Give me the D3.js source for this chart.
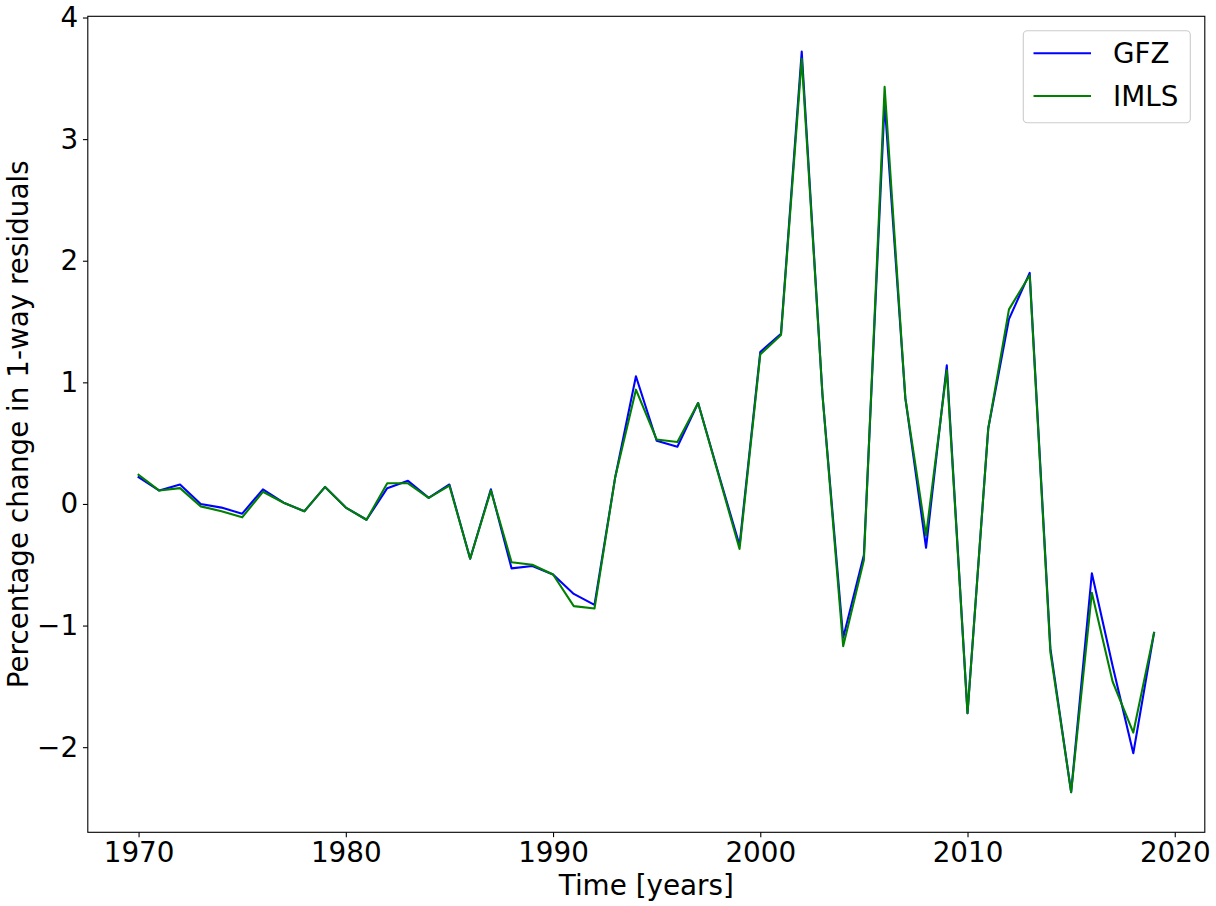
<!DOCTYPE html>
<html>
<head>
<meta charset="utf-8">
<script src="https://cdn.jsdelivr.net/npm/d3@7"></script>
<style>
  html, body { margin: 0; padding: 0; background: #fff; }
  svg { display: block; font-family: "DejaVu Sans", sans-serif; }
</style>
</head>
<body>
<svg id="chart" width="1216" height="906"></svg>
<script>
const years = [1970,1971,1972,1973,1974,1975,1976,1977,1978,1979,
               1980,1981,1982,1983,1984,1985,1986,1987,1988,1989,
               1990,1991,1992,1993,1994,1995,1996,1997,1998,1999,
               2000,2001,2002,2003,2004,2005,2006,2007,2008,2009,
               2010,2011,2012,2013,2014,2015,2016,2017,2018,2019];
const gfz = [0.22,0.11,0.16,0.00,-0.03,-0.08,0.12,0.01,-0.06,0.14,
             -0.03,-0.13,0.13,0.19,0.05,0.16,-0.45,0.12,-0.53,-0.51,
             -0.58,-0.74,-0.83,0.22,1.05,0.52,0.47,0.83,0.24,-0.34,
             1.25,1.40,3.72,0.90,-1.10,-0.42,3.30,0.87,-0.36,1.14,
             -1.72,0.62,1.52,1.90,-1.19,-2.37,-0.57,-1.33,-2.05,-1.06];
const imls = [0.24,0.11,0.13,-0.02,-0.06,-0.11,0.10,0.01,-0.06,0.14,
              -0.03,-0.13,0.17,0.17,0.05,0.15,-0.45,0.11,-0.48,-0.50,
              -0.58,-0.84,-0.86,0.22,0.94,0.53,0.51,0.83,0.23,-0.37,
              1.23,1.39,3.66,0.90,-1.17,-0.46,3.43,0.87,-0.26,1.10,
              -1.72,0.62,1.60,1.88,-1.22,-2.37,-0.73,-1.46,-1.88,-1.06];
const seriesNames = ["GFZ", "IMLS"];
const seriesColors = ["#0000ff", "#008000"];
const xTicks = [1970, 1980, 1990, 2000, 2010, 2020];
const yTicks = [-2, -1, 0, 1, 2, 3, 4];
const xDomain = [1967.55, 2021.45];
const yDomain = [-2.70, 4.01];

const L = 87.8, R = 1204.8, T = 16.3, B = 832.3;
const fs = 27.8;
const svg = d3.select("#chart");

const x = d3.scaleLinear().domain(xDomain).range([L, R]);
const y = d3.scaleLinear().domain(yDomain).range([B, T]);

// Lines
const series = [gfz, imls];
const line = d3.line().x((d, i) => x(years[i])).y(d => y(d));
series.forEach((s, k) => {
  svg.append("path")
    .datum(s)
    .attr("fill", "none")
    .attr("stroke", seriesColors[k])
    .attr("stroke-width", 2.08)
    .attr("stroke-linejoin", "round")
    .attr("stroke-linecap", "square")
    .attr("d", line);
});

// Axes
const xAxis = d3.axisBottom(x).tickValues(xTicks).tickFormat(d3.format("d"))
  .tickSize(4.86).tickPadding(4.86).tickSizeOuter(0);
const yAxis = d3.axisLeft(y).tickValues(yTicks).tickFormat(d => d < 0 ? "\u2212" + Math.abs(d) : String(d))
  .tickSize(4.86).tickPadding(4.86).tickSizeOuter(0);

const gx = svg.append("g").attr("transform", `translate(0,${B})`).call(xAxis);
const gy = svg.append("g").attr("transform", `translate(${L},0)`).call(yAxis);
[gx, gy].forEach(g => {
  g.select(".domain").remove();
  g.selectAll(".tick line").attr("stroke", "#000").attr("stroke-width", 1.1);
  g.selectAll(".tick text").attr("fill", "#000")
    .style("font-family", "DejaVu Sans").style("font-size", fs + "px");
});

// Spines
svg.append("rect")
  .attr("x", L).attr("y", T).attr("width", R - L).attr("height", B - T)
  .attr("fill", "none").attr("stroke", "#000").attr("stroke-width", 1.1);

// Axis labels
svg.append("text")
  .attr("x", (L + R) / 2).attr("y", 895)
  .attr("text-anchor", "middle")
  .style("font-size", fs + "px").attr("fill", "#000")
  .text("Time [years]");
svg.append("text")
  .attr("transform", `translate(28,${(T + B) / 2}) rotate(-90)`)
  .attr("text-anchor", "middle")
  .style("font-size", fs + "px").attr("fill", "#000")
  .text("Percentage change in 1-way residuals");

// Legend
const lg = svg.append("g");
lg.append("rect")
  .attr("x", 1023.3).attr("y", 30.7).attr("width", 167).attr("height", 92)
  .attr("rx", 4).attr("ry", 4)
  .attr("fill", "#fff").attr("fill-opacity", 0.8)
  .attr("stroke", "#cccccc").attr("stroke-width", 1.1);
seriesNames.forEach((name, k) => {
  const ly = 53.3 + k * 42.7;
  lg.append("line")
    .attr("x1", 1033.5).attr("x2", 1091)
    .attr("y1", ly).attr("y2", ly)
    .attr("stroke", seriesColors[k]).attr("stroke-width", 2.08);
  lg.append("text")
    .attr("x", 1113).attr("y", ly + 10)
    .style("font-size", fs + "px").attr("fill", "#000")
    .text(name);
});
</script>
</body>
</html>
